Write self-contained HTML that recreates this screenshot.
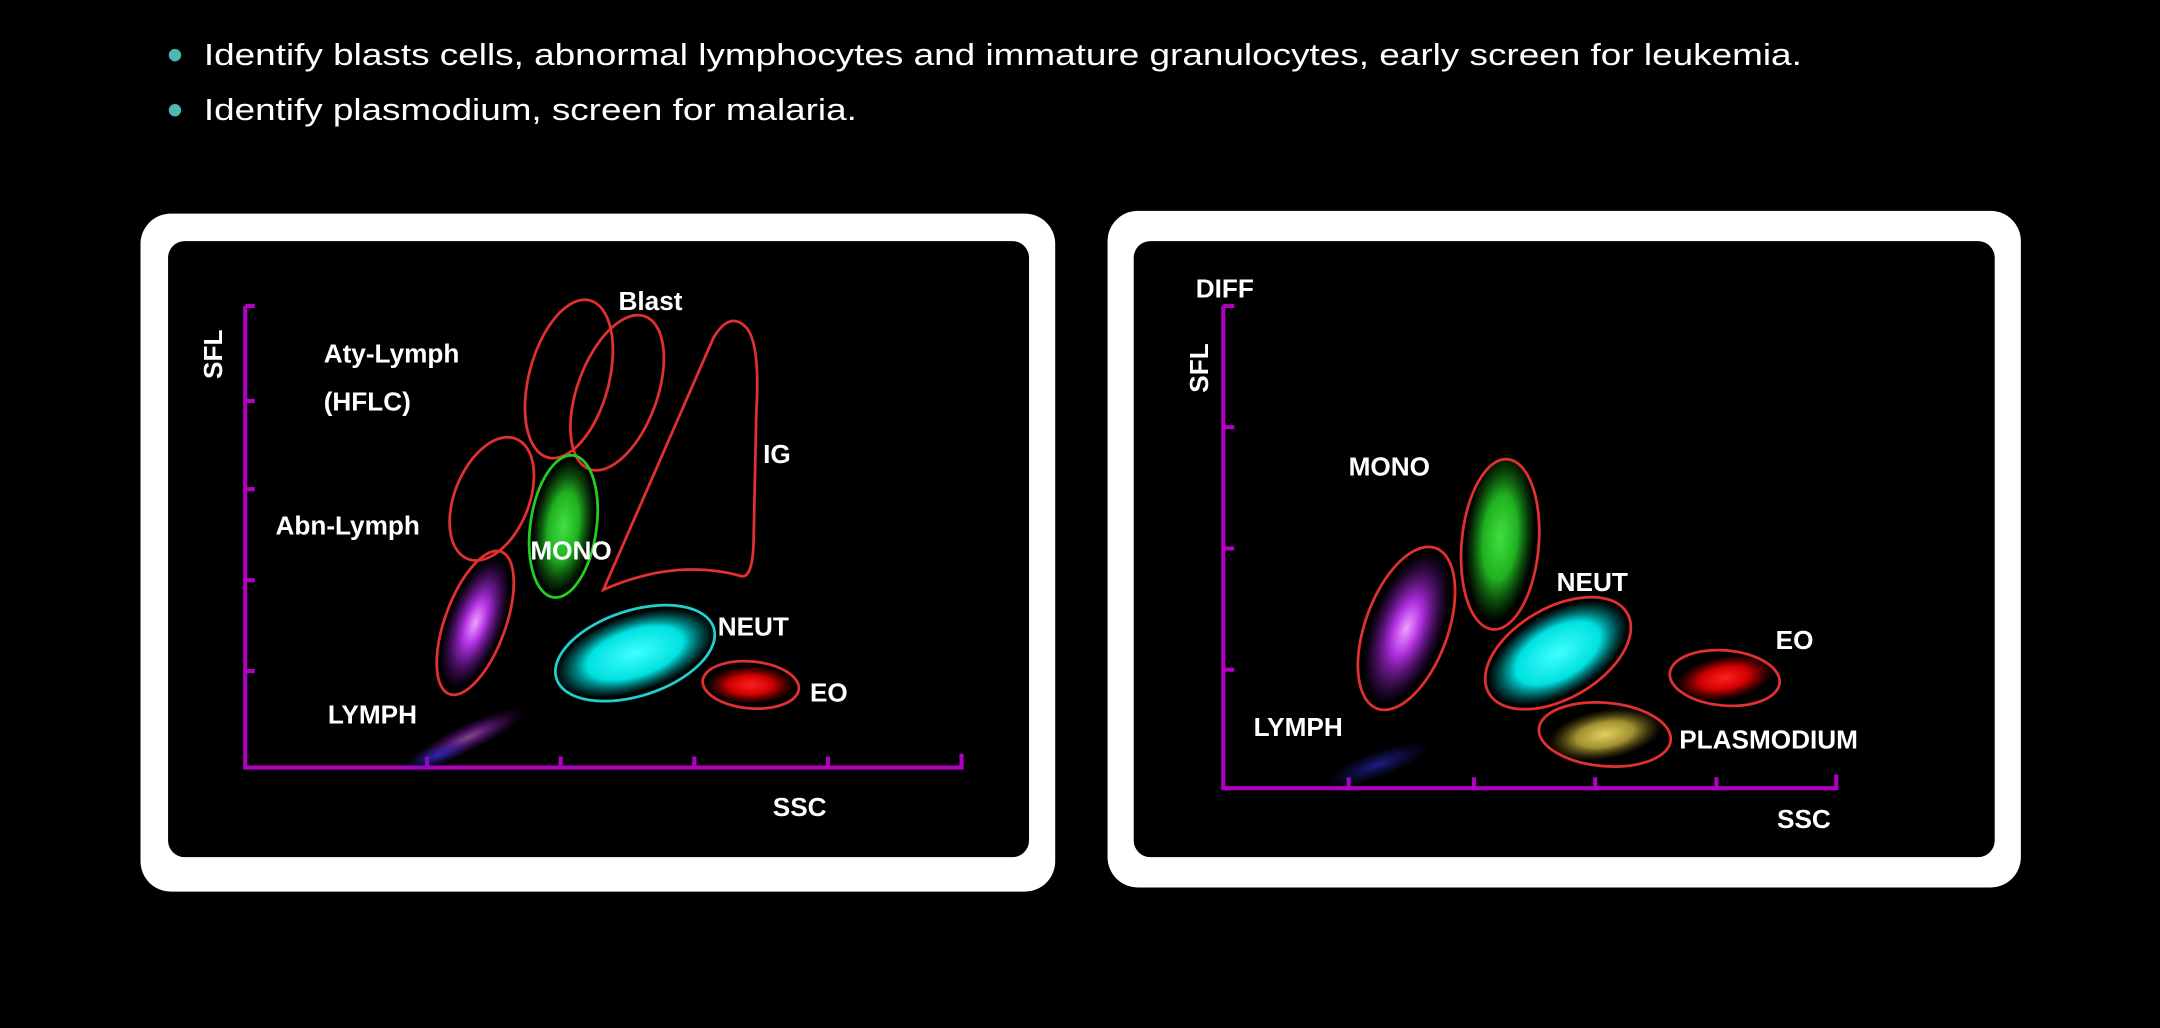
<!DOCTYPE html>
<html><head><meta charset="utf-8"><style>
html,body{margin:0;padding:0;background:#000;width:2160px;height:1028px;overflow:hidden}
svg{display:block}
text{font-family:"Liberation Sans",sans-serif;fill:#fff}
.l{font-size:19px;font-weight:bold}
</style></head><body>
<svg width="2160" height="1028" viewBox="0 0 1568 746" preserveAspectRatio="none" xmlns="http://www.w3.org/2000/svg">
<defs>
<radialGradient id="gp"><stop offset="0" stop-color="#f0a0ff"/><stop offset=".35" stop-color="#b030e0"/><stop offset="1" stop-color="#7010a0" stop-opacity="0"/></radialGradient>
<radialGradient id="gg"><stop offset="0" stop-color="#40e040"/><stop offset=".5" stop-color="#20b020"/><stop offset="1" stop-color="#108010" stop-opacity="0"/></radialGradient>
<radialGradient id="gc"><stop offset="0" stop-color="#40ffff"/><stop offset=".6" stop-color="#00e0e0"/><stop offset="1" stop-color="#00a0a0" stop-opacity="0"/></radialGradient>
<radialGradient id="gr"><stop offset="0" stop-color="#ff2020"/><stop offset=".5" stop-color="#d00000"/><stop offset="1" stop-color="#900000" stop-opacity="0"/></radialGradient>
<radialGradient id="gy"><stop offset="0" stop-color="#e0d060"/><stop offset=".5" stop-color="#a09030"/><stop offset="1" stop-color="#605010" stop-opacity="0"/></radialGradient>
<radialGradient id="gb"><stop offset="0" stop-color="#3030e0"/><stop offset="1" stop-color="#2020a0" stop-opacity="0"/></radialGradient>
</defs>
<rect width="1568" height="746" fill="#000"/>
<circle cx="127" cy="40" r="4.5" fill="#4fb8b0"/>
<circle cx="127" cy="80" r="4.5" fill="#4fb8b0"/>
<text x="148" y="47" font-size="22" fill="#eee" textLength="1160" lengthAdjust="spacingAndGlyphs">Identify blasts cells, abnormal lymphocytes and immature granulocytes, early screen for leukemia.</text>
<text x="148" y="87" font-size="22" fill="#eee" textLength="474" lengthAdjust="spacingAndGlyphs">Identify plasmodium, screen for malaria.</text>

<!-- left panel -->
<rect x="102" y="155" width="664" height="492" rx="22" fill="#fff"/>
<rect x="122" y="175" width="625" height="447" rx="12" fill="#000"/>
<g stroke="#b000c0" stroke-width="3" fill="none">
<path d="M178 222 V557 H698 V547"/>
<path d="M178 222 h7 M178 291 h7 M178 355 h7 M178 421 h7 M178 487 h7"/>
<path d="M310 557 v-8 M407 557 v-8 M504 557 v-8 M601 557 v-8"/>
</g>
<ellipse cx="345" cy="452" rx="20" ry="50" transform="rotate(20 345 452)" fill="url(#gp)"/>
<ellipse cx="340" cy="535" rx="45" ry="10" transform="rotate(-25 340 535)" fill="url(#gp)" opacity=".5"/>
<ellipse cx="318" cy="548" rx="25" ry="8" transform="rotate(-20 318 548)" fill="url(#gb)" opacity=".7"/>
<ellipse cx="409" cy="382" rx="22" ry="50" transform="rotate(8 409 382)" fill="url(#gg)"/>
<ellipse cx="461" cy="474" rx="60" ry="28" transform="rotate(-18 461 474)" fill="url(#gc)"/>
<ellipse cx="545" cy="497" rx="32" ry="14" fill="url(#gr)"/>
<g fill="none" stroke-width="2">
<ellipse cx="413" cy="275" rx="29" ry="59" transform="rotate(15 413 275)" stroke="#e03030"/>
<ellipse cx="448" cy="285" rx="29" ry="59" transform="rotate(20 448 285)" stroke="#e03030"/>
<ellipse cx="357" cy="362" rx="27" ry="47" transform="rotate(22 357 362)" stroke="#e03030"/>
<ellipse cx="345" cy="452" rx="22" ry="55" transform="rotate(20 345 452)" stroke="#e03030"/>
<ellipse cx="409" cy="382" rx="24" ry="52" transform="rotate(8 409 382)" stroke="#20d020"/>
<ellipse cx="461" cy="474" rx="60" ry="31" transform="rotate(-18 461 474)" stroke="#20d0d0"/>
<ellipse cx="545" cy="497" rx="35" ry="17" transform="rotate(5 545 497)" stroke="#e03030"/>
<path d="M438 428 L518 245 Q530 225 542 238 Q552 250 549 300 L547 395 Q546 420 538 418 Q490 405 438 428 Z" stroke="#e03030"/>
</g>
<text class="l" transform="translate(161 275) rotate(-90)">SFL</text>
<text class="l" x="235" y="263">Aty-Lymph</text>
<text class="l" x="235" y="298">(HFLC)</text>
<text class="l" x="200" y="388">Abn-Lymph</text>
<text class="l" x="385" y="406">MONO</text>
<text class="l" x="449" y="225">Blast</text>
<text class="l" x="554" y="336">IG</text>
<text class="l" x="521" y="461">NEUT</text>
<text class="l" x="588" y="509">EO</text>
<text class="l" x="238" y="525">LYMPH</text>
<text class="l" x="561" y="592">SSC</text>

<!-- right panel -->
<rect x="804" y="153" width="663" height="491" rx="22" fill="#fff"/>
<rect x="823" y="175" width="625" height="447" rx="12" fill="#000"/>
<g stroke="#b000c0" stroke-width="3" fill="none">
<path d="M888 222 V572 H1333 V562"/>
<path d="M888 222 h8 M888 310 h8 M888 398 h8 M888 486 h8"/>
<path d="M979 572 v-8 M1070 572 v-8 M1158 572 v-8 M1246 572 v-8"/>
</g>
<ellipse cx="1021" cy="456" rx="26" ry="58" transform="rotate(20 1021 456)" fill="url(#gp)"/>
<ellipse cx="1000" cy="555" rx="40" ry="10" transform="rotate(-20 1000 555)" fill="url(#gb)" opacity=".6"/>
<ellipse cx="1089" cy="390" rx="25" ry="62" transform="rotate(5 1089 390)" fill="url(#gg)"/>
<ellipse cx="1131" cy="474" rx="56" ry="30" transform="rotate(-30 1131 474)" fill="url(#gc)"/>
<ellipse cx="1252" cy="492" rx="36" ry="16" transform="rotate(-10 1252 492)" fill="url(#gr)"/>
<ellipse cx="1165" cy="533" rx="42" ry="18" transform="rotate(-10 1165 533)" fill="url(#gy)"/>
<g fill="none" stroke-width="2" stroke="#e03030">
<ellipse cx="1021" cy="456" rx="30" ry="62" transform="rotate(20 1021 456)"/>
<ellipse cx="1089" cy="395" rx="28" ry="62" transform="rotate(5 1089 395)"/>
<ellipse cx="1131" cy="474" rx="58" ry="33" transform="rotate(-30 1131 474)"/>
<ellipse cx="1252" cy="492" rx="40" ry="20" transform="rotate(5 1252 492)"/>
<ellipse cx="1165" cy="533" rx="48" ry="23" transform="rotate(5 1165 533)"/>
</g>
<text class="l" x="868" y="216">DIFF</text>
<text class="l" transform="translate(877 285) rotate(-90)">SFL</text>
<text class="l" x="979" y="345">MONO</text>
<text class="l" x="1130" y="429">NEUT</text>
<text class="l" x="1289" y="471">EO</text>
<text class="l" x="1219" y="543">PLASMODIUM</text>
<text class="l" x="910" y="534">LYMPH</text>
<text class="l" x="1290" y="601">SSC</text>
</svg>
</body></html>
